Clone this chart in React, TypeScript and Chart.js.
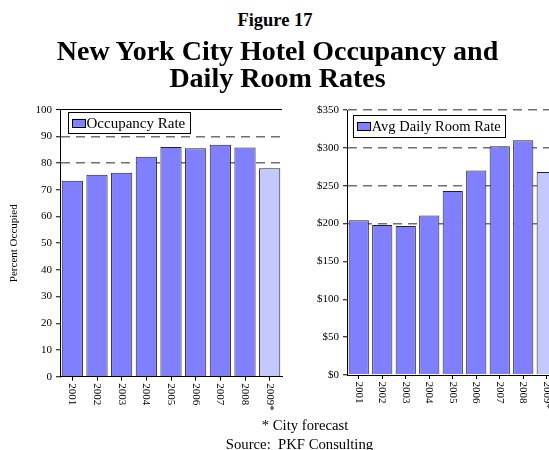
import React, { useEffect, useRef } from "react";
import { Chart, registerables } from "chart.js";

Chart.register(...registerables);

const SERIF = "'Liberation Serif', 'Times New Roman', serif";

const years = ["2001", "2002", "2003", "2004", "2005", "2006", "2007", "2008", "2009*"];
const occupancyRate = [73.4, 75.6, 76.4, 82.4, 86.0, 85.6, 86.9, 85.8, 78.1];
const avgDailyRate = [204.4, 198.2, 196.9, 210.6, 243.0, 270.2, 302.2, 310.1, 268.0];
const forecastIndex = 8;

const MAIN = "#8080FF";
const LIGHT = "#C3C9FF";

const boxLegend = {
  id: "boxLegend",
  afterDatasetsDraw(chart: any, _args: any, opts: any) {
    const { ctx, chartArea } = chart;
    const ds = chart.data.datasets[0];
    ctx.save();
    ctx.font = `${opts.size}px ${SERIF}`;
    const tw = ctx.measureText(ds.label).width;
    const x = chartArea.left + opts.dx;
    const y = chartArea.top + opts.dy;
    const w = 4.5 + 13 + 1.5 + tw + 4;
    const h = opts.h;
    ctx.fillStyle = "#fff";
    ctx.fillRect(x, y, w, h);
    ctx.strokeStyle = "#000";
    ctx.lineWidth = 1;
    ctx.strokeRect(Math.round(x) + 0.5, Math.round(y) + 0.5, Math.round(w), Math.round(h));
    const sy = y + h / 2 - 4;
    ctx.fillStyle = MAIN;
    ctx.fillRect(x + 4.5, sy, 13, 8);
    ctx.strokeRect(Math.round(x + 4.5) + 0.5, Math.round(sy) + 0.5, 13, 8);
    ctx.fillStyle = "#000";
    ctx.textAlign = "left";
    ctx.textBaseline = "middle";
    ctx.fillText(ds.label, x + 4.5 + 13 + 1.5, y + h / 2 + 1);
    ctx.restore();
  },
};

const vLabels = {
  id: "vLabels",
  afterDraw(chart: any, _args: any, opts: any) {
    const { ctx } = chart;
    const xs = chart.scales.x;
    ctx.save();
    ctx.font = `11px ${SERIF}`;
    ctx.fillStyle = "#000";
    ctx.textAlign = "left";
    ctx.textBaseline = "middle";
    chart.data.labels.forEach((lab: string, i: number) => {
      const px = xs.getPixelForValue(i);
      ctx.save();
      ctx.translate(px, xs.top + opts.gap);
      ctx.rotate(Math.PI / 2);
      ctx.fillText(lab, 0, 0);
      ctx.restore();
    });
    ctx.restore();
  },
};

function makeConfig(
  label: string,
  data: number[],
  max: number,
  step: number,
  gridFrom: number,
  solidTop: boolean,
  fmt: (v: number) => string,
  yWidth: number,
  xHeight: number,
  padTop: number,
  padRight: number,
  title: string | null,
  legend: any,
  gap: number
): any {
  return {
    type: "bar",
    data: {
      labels: years,
      datasets: [
        {
          label,
          data,
          backgroundColor: years.map((_, i) => (i === forecastIndex ? LIGHT : MAIN)),
          borderColor: "#222",
          borderWidth: 1,
          barPercentage: 0.86,
          categoryPercentage: 1,
        },
      ],
    },
    options: {
      animation: false,
      responsive: false,
      maintainAspectRatio: false,
      layout: { padding: { top: padTop, right: padRight, left: 0, bottom: 0 } },
      plugins: {
        legend: { display: false },
        tooltip: { enabled: false },
        boxLegend: legend,
        vLabels: { gap },
      },
      scales: {
        x: {
          offset: true,
          grid: {
            display: true,
            offset: false,
            drawOnChartArea: false,
            drawTicks: true,
            tickLength: 4,
            tickColor: "#000",
            tickWidth: 1,
            color: "#000",
          },
          border: { display: true, color: "#000", width: 1 },
          ticks: { display: false },
          afterFit: (s: any) => {
            s.height = xHeight;
          },
        },
        y: {
          min: 0,
          max,
          ticks: {
            stepSize: step,
            font: { family: SERIF, size: 11 },
            color: "#000",
            padding: 4,
            callback: (v: any) => fmt(Number(v)),
          },
          grid: {
            drawTicks: true,
            tickLength: 4,
            tickColor: "#000",
            tickWidth: 1,
            tickBorderDash: [],
            color: (c: any) => {
              const v = c.tick ? c.tick.value : -1;
              if (solidTop && v === max) return "#000";
              return v >= gridFrom ? "#707070" : "rgba(0,0,0,0)";
            },
            lineWidth: (c: any) => {
              const v = c.tick ? c.tick.value : -1;
              if (solidTop && v === max) return 1;
              return 1.5;
            },
          },
          border: {
            display: true,
            color: "#000",
            width: 1,
            dash: (c: any) => {
              if (!c.tick) return [];
              if (solidTop && c.tick.value === max) return [];
              return [9, 6];
            },
          },
          title: title
            ? {
                display: true,
                text: title,
                font: { family: SERIF, size: 11 },
                color: "#000",
                padding: { top: 7.4, bottom: 0 },
              }
            : { display: false },
          afterFit: (s: any) => {
            s.width = yWidth;
          },
        },
      },
    },
    plugins: [boxLegend, vLabels],
  };
}

export default function App() {
  const leftRef = useRef<HTMLCanvasElement>(null);
  const rightRef = useRef<HTMLCanvasElement>(null);

  useEffect(() => {
    const left = new Chart(
      leftRef.current as HTMLCanvasElement,
      makeConfig(
        "Occupancy Rate",
        occupancyRate,
        100,
        10,
        80,
        true,
        (v) => String(v),
        60,
        73.3,
        19.7,
        8,
        "Percent Occupied",
        { dx: 7.5, dy: 2.7, h: 21, size: 15 },
        6.5
      )
    );
    const right = new Chart(
      rightRef.current as HTMLCanvasElement,
      makeConfig(
        "Avg Daily Room Rate",
        avgDailyRate,
        350,
        50,
        200,
        false,
        (v) => "$" + v,
        57,
        75,
        20,
        21.5,
        null,
        { dx: 5.7, dy: 5, h: 22, size: 14.5 },
        6.5
      )
    );
    return () => {
      left.destroy();
      right.destroy();
    };
  }, []);

  const textBase: React.CSSProperties = {
    position: "absolute",
    fontFamily: SERIF,
    color: "#000",
    whiteSpace: "nowrap",
    textAlign: "center",
  };

  return (
    <div
      style={{
        position: "absolute",
        left: 0,
        top: 0,
        width: 549,
        height: 450,
        overflow: "hidden",
        background: "#fff",
      }}
    >
      <canvas
        ref={leftRef}
        width={290}
        height={360}
        style={{ position: "absolute", left: 0, top: 90, width: 290, height: 360 }}
      />
      <canvas
        ref={rightRef}
        width={290}
        height={360}
        style={{ position: "absolute", left: 290, top: 90, width: 290, height: 360 }}
      />
      <div
        style={{
          ...textBase,
          left: 0,
          width: 550,
          top: 9.8,
          fontSize: 18.5,
          lineHeight: "20px",
          fontWeight: "bold",
        }}
      >
        Figure 17
      </div>
      <div
        style={{
          ...textBase,
          left: 0,
          width: 555,
          top: 37.9,
          fontSize: 28,
          lineHeight: "26.7px",
          fontWeight: "bold",
        }}
      >
        New York City Hotel Occupancy and
        <br />
        Daily Room Rates
      </div>
      <div
        style={{ ...textBase, left: 205, width: 200, top: 418.2, fontSize: 14.7, lineHeight: "14.7px" }}
      >
        * City forecast
      </div>
      <div
        style={{ ...textBase, left: 199.5, width: 200, top: 437.2, fontSize: 14.7, lineHeight: "14.7px" }}
      >
        Source:&nbsp; PKF Consulting
      </div>
    </div>
  );
}
